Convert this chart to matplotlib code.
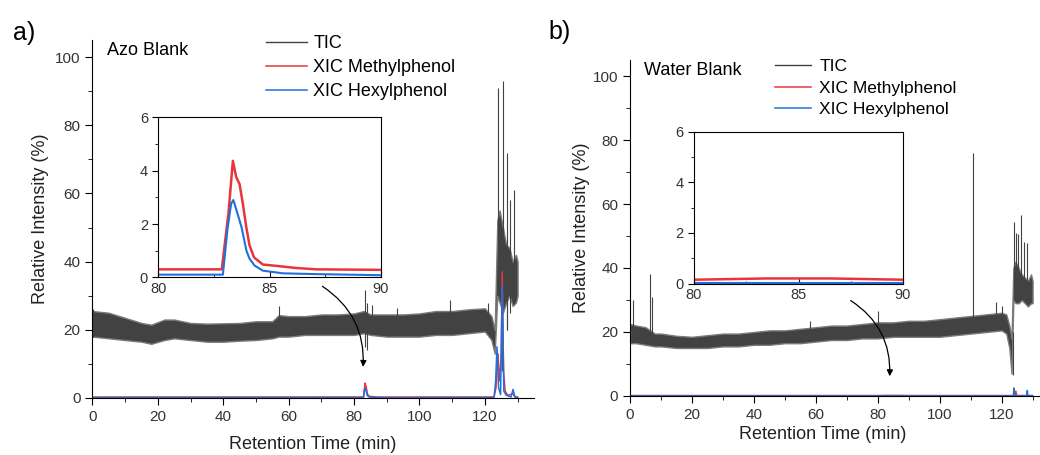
import matplotlib
matplotlib.use("Agg")
import matplotlib.pyplot as plt
from matplotlib.ticker import MultipleLocator

plt.rcParams['font.family'] = ['Liberation Sans', 'DejaVu Sans']

# ---------------- data ----------------
# panel a) Azo Blank - TIC noise band (lower / upper envelope)
tic_a_t = [0, 5, 10, 15, 18, 22, 25, 30, 35, 40, 45, 50, 55, 57, 60, 65, 70, 75, 80, 83, 85, 90,
           95, 100, 105, 110, 115, 120, 122, 123, 123.8, 124.5, 125.5, 126.5, 127.5, 128.5, 129.5, 130]
tic_a_hi = [25.5, 25, 23.5, 22, 21.5, 23, 23, 22, 21.8, 21.9, 22, 22.5, 22.5, 24.3, 24, 24, 24.5, 24.5, 24.8, 25.5, 24.5, 24.5,
            24.5, 24.8, 25.5, 25.5, 26, 26.3, 24, 20, 52, 55, 50, 45, 44, 40, 42, 40]
tic_a_lo = [18, 17.5, 17, 16.5, 15.9, 17, 17.5, 17, 16.5, 16.5, 16.8, 17, 17.5, 18, 18, 18.5, 18.5, 18.5, 18.5, 19, 18.5, 18,
            18, 18, 18.5, 18.5, 19, 19.5, 17, 13, 30, 28, 25, 28, 30, 27, 28, 30]
# isolated TIC spikes: time, bottom, top
spk_a_t = [0.2, 57, 83.4, 83.8, 85.4, 93, 109.3, 121,
           123.9, 125.1, 125.5, 126.8, 126.9, 127.6, 128.9]
spk_a_lo = [18, 19, 15, 14, 20, 20, 20, 20,
            40, 8, 30, 20, 20, 25, 28]
spk_a_hi = [26, 27, 31.7, 28, 27.3, 26.4, 28.7, 28,
            91, 40, 93, 72, 45, 58, 61]

methyl_a_t = [0, 82.85, 83.15, 83.35, 83.5, 83.65, 83.8, 83.95, 84.1, 84.3, 84.7, 85.3, 86.2, 87.1, 90,
              122.8, 123.4, 124.0, 124.5, 125.0, 125.3, 125.7, 126.2, 127, 128.6, 129.2, 130]
methyl_a = [0.28, 0.3, 2.4, 4.37, 3.76, 3.5, 2.76, 1.9, 1.2, 0.75, 0.48, 0.43, 0.35, 0.3, 0.28,
            0.3, 3, 13, 5, 12, 37, 8, 2, 0.8, 1.2, 0.3, 0.3]
hexyl_a_t = [0, 82.9, 83.1, 83.27, 83.37, 83.52, 83.74, 83.96, 84.1, 84.33, 84.7, 85.6, 87.1, 90,
             122.8, 123.3, 123.7, 124.2, 124.8, 125.3, 125.8, 126.5, 128.0, 128.6, 129.2, 130]
hexyl_a = [0.1, 0.1, 1.76, 2.76, 2.9, 2.5, 1.88, 1.0, 0.7, 0.44, 0.25, 0.15, 0.12, 0.08,
           0.1, 5, 15, 3, 1, 33, 2, 0.8, 0.3, 2.5, 0.3, 0.1]

# panel b) Water Blank
tic_b_t = [0, 2, 5, 8, 10, 15, 20, 25, 30, 35, 40, 45, 50, 55, 60, 65, 70, 75, 80, 85, 90, 95,
           100, 105, 110, 115, 120, 121.5, 122.5, 123.2, 123.8, 124.5, 125.5, 126.5, 127.5, 128.5, 129.5, 130]
tic_b_hi = [22.5, 22, 21.5, 19.5, 19.5, 18.8, 18.5, 19, 19.5, 19.5, 20, 20.5, 20.5, 21, 21.5, 22, 22, 22.5, 23, 23, 23.5, 23.5,
            24, 24.5, 25, 25.5, 26, 25.5, 22, 18, 40, 42, 40, 38, 37, 36, 38, 36]
tic_b_lo = [16.5, 16.5, 16, 15.5, 15.5, 15, 15, 15, 15.5, 15.5, 16, 16, 16.5, 16.5, 17, 17.5, 17.5, 18, 18, 18.5, 18.5, 18.5,
            18.5, 19, 19.5, 20, 20.5, 19.5, 15, 7, 30, 29, 29, 30, 29, 28, 29, 29]
spk_b_t = [1, 6.5, 7, 58, 80, 110.9, 118.1, 120, 123.6,
           124, 124.8, 125.4, 126.4, 127.2, 128.3]
spk_b_lo = [17, 17, 17, 18, 19, 20, 21, 21, 6.5,
            30, 30, 30, 30, 30, 30]
spk_b_hi = [30, 38, 31, 23.5, 26.5, 76, 29.5, 28, 20,
            54.5, 51, 50.5, 56.6, 48, 47.8]

methyl_b_t = [0, 80, 83.5, 86.5, 90, 124.3, 124.6, 124.9, 130]
methyl_b = [0.15, 0.15, 0.2, 0.2, 0.15, 0.15, 1.5, 0.15, 0.15]
hexyl_b_t = [0, 90, 123.8, 124.0, 124.2, 128.1, 128.3, 128.5, 130]
hexyl_b = [0.03, 0.03, 0.03, 2.5, 0.03, 0.03, 1.7, 0.03, 0.03]

c_tic = '#424242'
c_met = '#e8353b'
c_hex = '#1f6fdc'

fig = plt.figure(figsize=(10.4, 4.55), dpi=100)


def main_panel(rect, tic_t, tic_lo, tic_hi, sp_t, sp_lo, sp_hi, mt, mv, ht, hv, xmax, title):
    ax = fig.add_axes(rect)
    ax.fill_between(tic_t, tic_lo, tic_hi, facecolor=c_tic, edgecolor='#7a7a7a', lw=1.0)
    ax.vlines(sp_t, sp_lo, sp_hi, color=c_tic, lw=0.8)
    ax.plot([], [], color=c_tic, lw=1, label='TIC')
    ax.plot(mt, mv, color=c_met, lw=1.1, label='XIC Methylphenol')
    ax.plot(ht, hv, color=c_hex, lw=1.1, label='XIC Hexylphenol')
    ax.set_xlim(0, xmax)
    ax.set_ylim(0, 105)
    ax.spines['top'].set_visible(False)
    ax.spines['right'].set_visible(False)
    ax.xaxis.set_major_locator(MultipleLocator(20))
    ax.xaxis.set_minor_locator(MultipleLocator(10))
    ax.yaxis.set_major_locator(MultipleLocator(20))
    ax.yaxis.set_minor_locator(MultipleLocator(10))
    ax.tick_params(which='major', length=5, labelsize=11, labelcolor='#333333')
    ax.tick_params(which='minor', length=3)
    ax.set_xlabel('Retention Time (min)', fontsize=13, color='#222222')
    ax.set_ylabel('Relative Intensity (%)', fontsize=13, color='#222222')
    ax.xaxis.label.set_va('center')
    ax.yaxis.label.set_va('center')
    ax.text(0.033, 0.97, title, transform=ax.transAxes, fontsize=13, va='center', ha='left')
    return ax


def inset_panel(rect, mt, mv, ht, hv):
    ax = fig.add_axes(rect)
    ax.plot(mt, mv, color=c_met, lw=1.8)
    ax.plot(ht, hv, color=c_hex, lw=1.5)
    ax.set_xlim(80, 90)
    ax.set_ylim(0, 6)
    ax.xaxis.set_major_locator(MultipleLocator(5))
    ax.xaxis.set_minor_locator(MultipleLocator(2.5))
    ax.yaxis.set_major_locator(MultipleLocator(2))
    ax.yaxis.set_minor_locator(MultipleLocator(1))
    ax.tick_params(which='major', length=4, labelsize=10.5, labelcolor='#333333')
    ax.tick_params(which='minor', length=2.5)
    ax.tick_params(axis='x', which='both', direction='in')
    return ax


# panel a
ax_a = main_panel([0.0889, 0.1253, 0.4245, 0.7868], tic_a_t, tic_a_lo, tic_a_hi,
                  spk_a_t, spk_a_lo, spk_a_hi, methyl_a_t, methyl_a, hexyl_a_t, hexyl_a, 135, 'Azo Blank')
ax_a.xaxis.set_label_coords(0.499, -0.131)
ax_a.yaxis.set_label_coords(-0.117, 0.5)
ax_a.legend(loc='upper left', bbox_to_anchor=(265.5 / 1040, 1 - 35 / 455), bbox_transform=fig.transFigure,
            frameon=False, fontsize=13, handlelength=2.3, handletextpad=0.35, labelspacing=0.4,
            borderpad=0, borderaxespad=0)
ax_a.annotate('', xy=(82.7, 8.3), xytext=(69.6, 33.2),
              arrowprops=dict(arrowstyle='-|>', color='black', lw=0.9, mutation_scale=9,
                              connectionstyle='arc3,rad=-0.3'))
in_a = inset_panel([0.1524, 0.3905, 0.2135, 0.3515], methyl_a_t, methyl_a, hexyl_a_t, hexyl_a)

# panel b
ax_b = main_panel([0.6058, 0.1297, 0.3942, 0.7384], tic_b_t, tic_b_lo, tic_b_hi,
                  spk_b_t, spk_b_lo, spk_b_hi, methyl_b_t, methyl_b, hexyl_b_t, hexyl_b, 132.4, 'Water Blank')
ax_b.xaxis.set_label_coords(0.471, -0.116)
ax_b.yaxis.set_label_coords(-0.118, 0.5)
ax_b.legend(loc='upper left', bbox_to_anchor=(775 / 1040, 1 - 59 / 455), bbox_transform=fig.transFigure,
            frameon=False, fontsize=12.5, handlelength=2.1, handletextpad=0.45, labelspacing=0.37,
            borderpad=0, borderaxespad=0)
ax_b.annotate('', xy=(83.8, 5.3), xytext=(70.5, 30.3),
              arrowprops=dict(arrowstyle='-|>', color='black', lw=0.9, mutation_scale=9,
                              connectionstyle='arc3,rad=-0.3'))
in_b = inset_panel([0.6673, 0.3769, 0.2010, 0.3336], methyl_b_t, methyl_b, hexyl_b_t, hexyl_b)

fig.text(24 / 1040, 1 - 33 / 455, 'a)', fontsize=18, ha='center', va='center')
fig.text(560 / 1040, 1 - 32 / 455, 'b)', fontsize=18, ha='center', va='center')

fig.savefig('out.png', dpi=100)
